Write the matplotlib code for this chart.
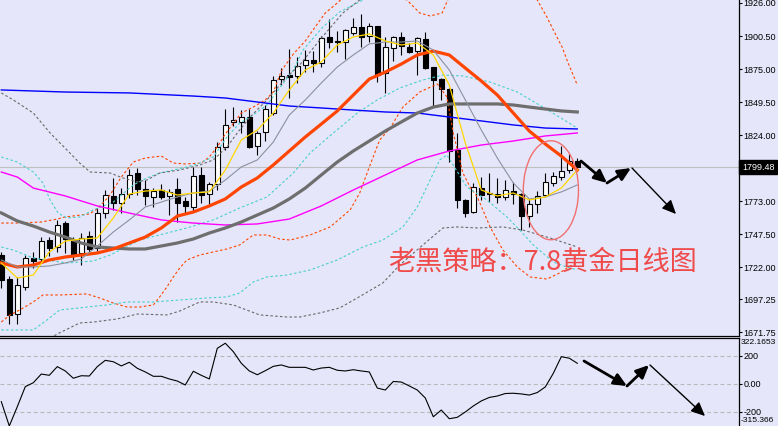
import matplotlib
matplotlib.use('Agg')
import matplotlib.pyplot as plt
from matplotlib.patches import Ellipse, FancyArrowPatch
import numpy as np

plt.rcParams['font.family'] = ['Liberation Sans', 'DejaVu Sans']

# ---------------- data ----------------
opens = [1731.9, 1713.0, 1685.8, 1707.2, 1729.5, 1728.2, 1743.1, 1737.5, 1756.5, 1743.1,
         1732.9, 1746.2, 1736.7, 1763.7, 1777.1, 1771.4, 1778.4, 1794.6, 1782.2, 1776.1,
         1781.7, 1777.1, 1782.5, 1773.2, 1768.4, 1793.3, 1778.4, 1786.3, 1814.7, 1833.9,
         1833.9, 1837.8, 1815.9, 1826.2, 1841.3, 1867.1, 1870.2, 1869.7, 1877.9, 1882.0,
         1879.9, 1899.8, 1896.7, 1896.1, 1903.1, 1907.2, 1900.5, 1908.2, 1871.7, 1891.0,
         1899.5, 1892.3, 1889.2, 1898.0, 1876.4, 1867.1, 1859.4, 1812.6, 1774.0, 1765.0,
         1783.0, 1779.2, 1778.6, 1776.3, 1781.2, 1778.6, 1761.4, 1770.9, 1777.5, 1787.3,
         1791.5, 1797.1, 1803.9]
highs = [1733.9, 1715.3, 1714.8, 1731.6, 1733.5, 1745.8, 1745.4, 1758.8, 1758.0, 1745.4,
         1748.3, 1750.2, 1768.0, 1781.7, 1790.7, 1783.6, 1797.7, 1798.4, 1789.2, 1783.0,
         1786.1, 1782.2, 1790.7, 1776.5, 1799.7, 1799.7, 1788.1, 1819.1, 1844.3, 1845.5,
         1843.7, 1844.0, 1827.2, 1847.3, 1869.4, 1875.6, 1890.3, 1884.1, 1889.7, 1889.2,
         1900.8, 1913.7, 1904.4, 1905.7, 1914.2, 1917.5, 1910.3, 1908.6, 1900.0, 1900.5,
         1903.4, 1895.4, 1900.0, 1903.4, 1876.8, 1867.9, 1860.2, 1825.7, 1774.5, 1787.3,
         1792.0, 1795.1, 1791.0, 1789.4, 1787.9, 1779.4, 1774.8, 1781.2, 1795.1, 1795.8,
         1815.7, 1809.5, 1806.2]
lows = [1706.1, 1678.5, 1678.1, 1704.8, 1721.3, 1726.9, 1730.4, 1733.9, 1733.1, 1727.5,
        1723.8, 1732.9, 1734.9, 1759.9, 1766.5, 1763.7, 1775.3, 1777.8, 1770.1, 1768.8,
        1774.5, 1762.4, 1757.2, 1763.7, 1765.0, 1771.4, 1770.9, 1781.7, 1812.6, 1831.3,
        1825.9, 1813.9, 1808.7, 1819.3, 1839.6, 1862.7, 1852.5, 1864.0, 1873.0, 1873.0,
        1876.9, 1891.0, 1888.4, 1882.6, 1901.3, 1892.3, 1896.1, 1865.3, 1856.3, 1881.5,
        1885.9, 1887.2, 1870.4, 1874.8, 1846.5, 1851.2, 1803.5, 1767.8, 1761.1, 1764.2,
        1774.0, 1772.7, 1771.9, 1774.0, 1770.9, 1751.1, 1753.4, 1763.9, 1776.5, 1784.8,
        1789.4, 1794.6, 1799.2]
closes = [1712.3, 1685.3, 1708.2, 1729.0, 1726.9, 1742.3, 1737.3, 1754.5, 1743.7, 1731.5,
          1744.7, 1736.0, 1763.7, 1777.6, 1771.4, 1778.4, 1793.3, 1782.5, 1777.3, 1780.9,
          1776.5, 1780.4, 1771.4, 1769.6, 1792.5, 1778.2, 1786.1, 1814.7, 1831.6, 1835.7,
          1837.8, 1815.1, 1825.4, 1844.0, 1866.3, 1869.4, 1868.9, 1877.4, 1881.8, 1879.9,
          1899.0, 1896.1, 1895.9, 1905.2, 1907.2, 1900.0, 1908.2, 1870.8, 1891.8, 1899.5,
          1893.0, 1888.4, 1898.7, 1876.2, 1866.6, 1859.4, 1811.8, 1773.6, 1764.2, 1783.8,
          1778.1, 1778.6, 1776.1, 1781.5, 1778.6, 1761.4, 1770.9, 1776.7, 1787.6, 1792.3,
          1796.6, 1803.9, 1799.48]

ma_idx = list(range(0, 73, 2))
ma5 = [1725.4, 1713.8, 1716.1, 1733.9, 1742.3, 1743.9, 1744.7, 1760.1, 1778.6, 1780.9,
       1781.7, 1777.8, 1779.4, 1780.2, 1797.1, 1820.3, 1828.0, 1841.1, 1858.9, 1874.3,
       1880.5, 1893.6, 1899.8, 1902.1, 1896.7, 1893.6, 1895.1, 1885.9, 1862.7, 1818.0,
       1781.7, 1777.1, 1779.4, 1774.0, 1776.3, 1783.2, 1797.1]
ma10 = [1727.7, 1722.3, 1722.3, 1723.1, 1725.4, 1728.5, 1738.5, 1749.3, 1758.6, 1768.6,
        1772.4, 1776.3, 1779.4, 1780.9, 1789.4, 1799.5, 1804.9, 1818.7, 1839.6, 1851.2,
        1864.3, 1876.6, 1885.9, 1894.4, 1895.9, 1895.9, 1896.7, 1889.7, 1874.3, 1851.2,
        1828.0, 1806.4, 1787.1, 1774.8, 1776.3, 1780.2, 1785.6]
ma20 = [1725.4, 1722.3, 1723.8, 1727.7, 1730.0, 1731.5, 1733.1, 1736.2, 1740.8, 1745.4,
        1752.4, 1761.6, 1764.7, 1769.4, 1774.8, 1784.0, 1791.0, 1801.0, 1811.8, 1822.6,
        1832.6, 1842.7, 1855.0, 1867.3, 1872.7, 1878.9, 1885.9, 1888.9, 1885.9, 1875.8,
        1865.8, 1855.0, 1841.1, 1827.2, 1817.2, 1807.9, 1797.1]
ma60 = [1764.0, 1757.8, 1753.9, 1749.3, 1745.4, 1740.8, 1737.7, 1736.9, 1736.2, 1736.2,
        1738.5, 1740.8, 1743.9, 1748.5, 1752.4, 1757.0, 1762.4, 1767.8, 1774.8, 1783.2,
        1793.3, 1803.3, 1811.8, 1819.5, 1827.2, 1834.2, 1841.1, 1845.7, 1848.1, 1848.1,
        1848.1, 1848.1, 1847.3, 1845.7, 1844.2, 1842.7, 1841.9]
ma120_idx = [0, 2, 4, 8, 12, 16, 20, 24, 28, 32, 36, 40, 44, 48, 52, 56, 60, 64, 68, 72]
ma120 = [1795.6, 1791.7, 1783.2, 1777.1, 1769.4, 1763.9, 1758.6, 1756.2, 1754.7, 1755.5,
         1759.3, 1769.4, 1781.7, 1793.3, 1804.9, 1811.8, 1816.4, 1819.5, 1823.4, 1825.7]
ma250_idx = [0, 8, 16, 24, 28, 32, 36, 40, 44, 48, 52, 56, 60, 64, 68, 72]
ma250 = [1858.9, 1857.3, 1856.6, 1854.2, 1852.7, 1849.6, 1846.5, 1845.0, 1843.4, 1841.9,
         1841.1, 1838.0, 1835.0, 1831.9, 1829.5, 1828.8]

bb20_up_x = [0, 2, 5, 7, 8, 11, 12, 13.5, 15, 16.5, 18, 20, 21.5, 23, 25, 26, 27, 28, 30, 31.5,
             33, 34, 35, 36.5, 38, 39.5, 40.5, 42, 44, 46, 48, 50, 50.7, 52.3, 53.6, 55.1, 55.8,
             58, 62, 66, 67, 68.2, 69, 70.1, 70.8, 72]
bb20_up = [1756.2, 1756.2, 1757.0, 1759.3, 1760.9, 1763.2, 1767.0, 1777.1, 1791.7, 1803.3,
           1806.4, 1807.9, 1802.5, 1801.8, 1802.5, 1807.2, 1814.9, 1824.9, 1841.1, 1845.7,
           1851.2, 1857.3, 1873.5, 1886.6, 1896.7, 1909.8, 1918.3, 1926.0, 1937.6, 1943.7,
           1939.9, 1930.6, 1928.3, 1918.3, 1916.0, 1918.3, 1928.3, 1947.6, 1966.9, 1939.9,
           1928.3, 1915.2, 1905.2, 1892.0, 1880.5, 1862.7]
bb20_dn_x = [0, 1.1, 2.3, 4, 5.2, 7.3, 10.7, 12.3, 14, 15.7, 17.3, 19, 19.8, 20.7, 21.5, 22.3,
             23.2, 24.8, 26.5, 28.2, 29.8, 31.5, 33.2, 34.8, 36.1, 38.6, 41.1, 43.6, 44.8, 46.1,
             47.3, 48.6, 50.2, 52.3, 54.5, 55.7, 56.5, 57.7, 58.6, 59.5, 61.1, 62.7, 64.5, 66.1,
             68.2, 69.8, 70.7, 72]
bb20_dn = [1679.8, 1685.3, 1689.1, 1695.3, 1700.7, 1700.7, 1701.5, 1698.4, 1694.5, 1691.4,
           1691.4, 1693.0, 1699.2, 1706.9, 1714.6, 1721.5, 1727.7, 1731.5, 1733.9, 1736.2,
           1739.3, 1747.0, 1747.0, 1743.9, 1743.1, 1747.0, 1753.2, 1766.3, 1779.4, 1801.0,
           1820.3, 1829.5, 1845.7, 1857.3, 1863.5, 1853.5, 1825.7, 1794.8, 1784.0, 1776.3,
           1753.2, 1735.4, 1722.3, 1714.6, 1713.0, 1717.7, 1721.5, 1726.1]

cy_up_x = [0, 2, 4, 5.2, 6.1, 7.1, 8.2, 9.8, 11.5, 14, 16.5, 18.2, 19.8, 21.5, 23.2, 24.8, 26.5,
           28.2, 29.8, 31.5, 33.2, 34.8, 36.5, 37.7, 40.2, 42.3, 44, 45.2, 47]
cy_up = [1807.2, 1803.3, 1795.6, 1787.1, 1774.0, 1763.9, 1760.1, 1760.9, 1766.3, 1772.4,
         1785.6, 1791.0, 1794.8, 1797.1, 1799.5, 1802.5, 1807.2, 1822.6, 1833.4, 1839.6,
         1847.3, 1860.4, 1874.3, 1889.7, 1907.5, 1919.1, 1924.5, 1928.3, 1937.6]
cy_mid_x = [0, 1.5, 4, 8.2, 11.5, 13.6, 17.3, 20.7, 23.2, 26.5, 29.8, 33.2, 36.5, 38.6, 41.5,
            44.5, 47, 49.8, 52.7, 55.2, 57.7, 61.1, 64.5, 67.7, 72]
cy_mid = [1737.7, 1735.4, 1729.2, 1725.4, 1726.9, 1731.5, 1743.1, 1748.5, 1752.4, 1758.6,
          1767.8, 1776.3, 1794.8, 1810.3, 1825.7, 1841.1, 1851.2, 1860.4, 1866.6, 1870.4,
          1869.7, 1865.0, 1857.3, 1845.7, 1829.5]
cy_dn_x = [0, 4, 5.7, 7.3, 10.7, 13.2, 15.7, 19, 22.3, 25.7, 28.2, 29.8, 31.5, 33.2, 35.7, 38.6,
           42, 45.2, 47.7, 50.2, 52, 53.6, 54.8, 55.7, 58.2, 60.7, 63.2, 64.8, 66.5, 69, 70.7, 72]
cy_dn = [1673.7, 1673.7, 1681.4, 1689.1, 1691.4, 1693.0, 1695.3, 1695.3, 1696.8, 1698.4,
         1699.2, 1702.2, 1710.7, 1714.6, 1716.1, 1720.0, 1727.7, 1737.7, 1743.1, 1753.2,
         1768.6, 1789.4, 1804.9, 1808.7, 1784.0, 1774.0, 1760.9, 1750.8, 1739.3, 1726.1,
         1722.3, 1720.0]

gr_up_x = [0, 1.5, 4, 6.1, 8.2, 9.8, 11.1, 13.6, 15.2, 17, 18.2, 19.8, 22.3, 24.8, 26.5, 28.2,
           29.5, 31.1, 33.2, 35.7, 37.3, 39.8, 42.7, 44.8, 46.7]
gr_up = [1856.6, 1851.2, 1841.1, 1825.7, 1812.6, 1802.5, 1795.6, 1794.8, 1791.0, 1787.9,
         1789.4, 1794.8, 1797.1, 1801.0, 1804.9, 1814.9, 1825.7, 1838.0, 1851.2, 1868.9,
         1878.2, 1897.4, 1918.3, 1928.3, 1936.0]
gr_dn_x = [6.1, 7, 9.8, 11.5, 14.5, 17, 20.7, 22.3, 24.8, 26.5, 29, 32.3, 35.7, 37.3, 39.8, 42.3,
           44.5, 47.7, 49.8, 52.7, 55.2, 57, 59.5, 62.7, 65.2, 68.6, 72]
gr_dn = [1667.5, 1670.6, 1679.1, 1679.8, 1682.2, 1686.0, 1685.3, 1688.3, 1695.3, 1695.3,
         1693.0, 1685.3, 1683.7, 1683.7, 1686.8, 1690.7, 1698.4, 1710.0, 1723.8, 1739.3,
         1752.4, 1753.2, 1752.4, 1753.2, 1750.8, 1744.7, 1737.7]

cci = [-126, -300, -162, -19, 9, 71, 62, 124, 93, 41,
       59, 57, 124, 169, 159, 129, 155, 112, 86, 55,
       55, 36, 21, -7, 91, 62, 36, 255, 291, 231,
       148, 93, 66, 95, 126, 136, 119, 119, 119, 100,
       114, 119, 98, 93, 102, 93, 86, -29, -43, 18,
       14, -14, -43, -100, -234, -186, -248, -238, -200, -157,
       -121, -96, -86, -68, -66, -71, -79, -61, -21, 76,
       195, 184, 148]

price_ticks = [1926.00, 1900.50, 1875.00, 1849.50, 1824.00, 1773.00, 1747.50, 1722.00, 1697.25, 1671.75]
last_price = 1799.48
cci_levels = [200, 0, -200]
cci_level_labels = ['200', '0.00', '-200']
cci_max_label, cci_min_label = '322.1653', '-315.366'
note_text = '老黑策略：7.8黄金日线图'

# ---------------- figure ----------------
BG = '#e6e6fa'
W, H = 778.0, 426.0
LBL = 6.5
fig = plt.figure(figsize=(W / 100, H / 100), dpi=100, facecolor=BG)
ax = fig.add_axes([0, (H - 335.5) / H, 738.5 / W, 335.5 / H], facecolor=BG)
axc = fig.add_axes([0, 0, 738.5 / W, (H - 337.5) / H], facecolor=BG)

xlim = (-0.1625, -0.1625 + 738.5 / 8)
for a in (ax, axc):
    a.set_xlim(*xlim)
    a.set_xticks([])
    a.spines['left'].set_visible(False)
ax.set_ylim(1669.43, 1928.31)
axc.set_ylim(-300, 332)
ax.spines['top'].set_visible(False)
axc.spines['bottom'].set_visible(False)
for sp in ('bottom', 'right'):
    ax.spines[sp].set_linewidth(0.9)
for sp in ('top', 'right'):
    axc.spines[sp].set_linewidth(0.9)

# current price line
ax.axhline(last_price, color='#c0c0c0', lw=0.8, zorder=1)

# candles
idx = np.arange(len(opens))
o = np.array(opens); c = np.array(closes); h = np.array(highs); l = np.array(lows)
ax.vlines(idx, l, h, color='black', lw=0.8, zorder=2)
bull = c > o
bottoms = np.minimum(o, c)
heights = np.maximum(np.abs(c - o), 0.5)
ax.bar(idx, heights, bottom=bottoms, width=0.56,
       color=np.where(bull, 'white', 'black'), edgecolor='black', linewidth=0.8, zorder=3)

# bands (dashed)
dash = (0, (2.3, 2.0))
ax.plot(bb20_up_x, bb20_up, color='#ff4500', lw=0.8, ls=dash, zorder=4)
ax.plot(bb20_dn_x, bb20_dn, color='#ff4500', lw=0.8, ls=dash, zorder=4)
ax.plot(cy_up_x, cy_up, color='#48d1cc', lw=0.8, ls=dash, zorder=4)
ax.plot(cy_mid_x, cy_mid, color='#48d1cc', lw=0.8, ls=dash, zorder=4)
ax.plot(cy_dn_x, cy_dn, color='#48d1cc', lw=0.8, ls=dash, zorder=4)
ax.plot(gr_up_x, gr_up, color='#696969', lw=0.8, ls=dash, zorder=4)
ax.plot(gr_dn_x, gr_dn, color='#696969', lw=0.8, ls=dash, zorder=4)

# moving averages
ax.plot(ma250_idx, ma250, color='#0000ff', lw=1.0, zorder=5)
ax.plot(ma120_idx, ma120, color='#ff00ff', lw=1.0, zorder=5)
ax.plot(ma_idx, ma60, color='#6e6e6e', lw=2.3, zorder=5)
ax.plot(ma_idx, ma20, color='#ff4500', lw=2.3, zorder=6)
ax.plot(ma_idx, ma10, color='#8a919c', lw=0.8, zorder=6)
ax.plot(ma_idx, ma5, color='#ffd700', lw=0.9, zorder=7)

# ellipse
ax.add_patch(Ellipse((68.7, 1781.5), 6.9, 76.4, fill=False, edgecolor='#f07070', lw=1.0, zorder=8))

# price axis
ax.yaxis.tick_right()
ax.set_yticks(price_ticks)
ax.set_yticklabels([f'{v:.2f}' for v in price_ticks])
ax.tick_params(axis='y', direction='out', length=2.5, width=0.8, pad=1.0, labelsize=LBL, colors='black')
fig.text(742 / W, 1 - 167 / H, f'{last_price:.2f}', color='white', fontsize=LBL,
         ha='left', va='center',
         bbox=dict(boxstyle='square,pad=0.3', fc='black', ec='black'))

# CCI panel
for lv in cci_levels:
    axc.axhline(lv, color='#b8b8b8', lw=0.8, ls=(0, (3.5, 2.5)), zorder=1)
axc.plot(idx, cci, color='black', lw=0.8, zorder=3)
axc.yaxis.tick_right()
axc.set_yticks(cci_levels)
axc.set_yticklabels(cci_level_labels)
axc.tick_params(axis='y', direction='out', length=2.5, width=0.8, pad=1.0, labelsize=LBL, colors='black')
fig.text(741 / W, 1 - 343 / H, cci_max_label, fontsize=6.1, ha='left', va='center')
fig.text(741 / W, 1 - 421 / H, cci_min_label, fontsize=6.1, ha='left', va='center')

# note text
fig.text(388 / W, 1 - 262 / H, note_text, color='#ef4b4b', fontsize=19.5,
         family=['Noto Sans CJK SC', 'DejaVu Sans'], ha='left', va='center')

# arrows (figure pixel annotations)
def arrow(p0, p1, lw, ms):
    a = FancyArrowPatch((p0[0] / W, 1 - p0[1] / H), (p1[0] / W, 1 - p1[1] / H),
                        transform=fig.transFigure, arrowstyle='-|>,head_length=0.7,head_width=0.32',
                        mutation_scale=ms, lw=lw, color='black', shrinkA=0, shrinkB=0)
    fig.add_artist(a)

arrow((581, 161), (607, 183), 2.0, 11)
arrow((607, 183), (631, 168), 2.0, 11)
arrow((632, 168), (676, 214), 1.0, 12)
arrow((584, 361), (627, 386), 2.0, 11)
arrow((627, 386), (649, 365), 2.0, 11)
arrow((650, 365), (705, 416), 1.0, 12)

fig.savefig('out.png', dpi=100, facecolor=BG)
